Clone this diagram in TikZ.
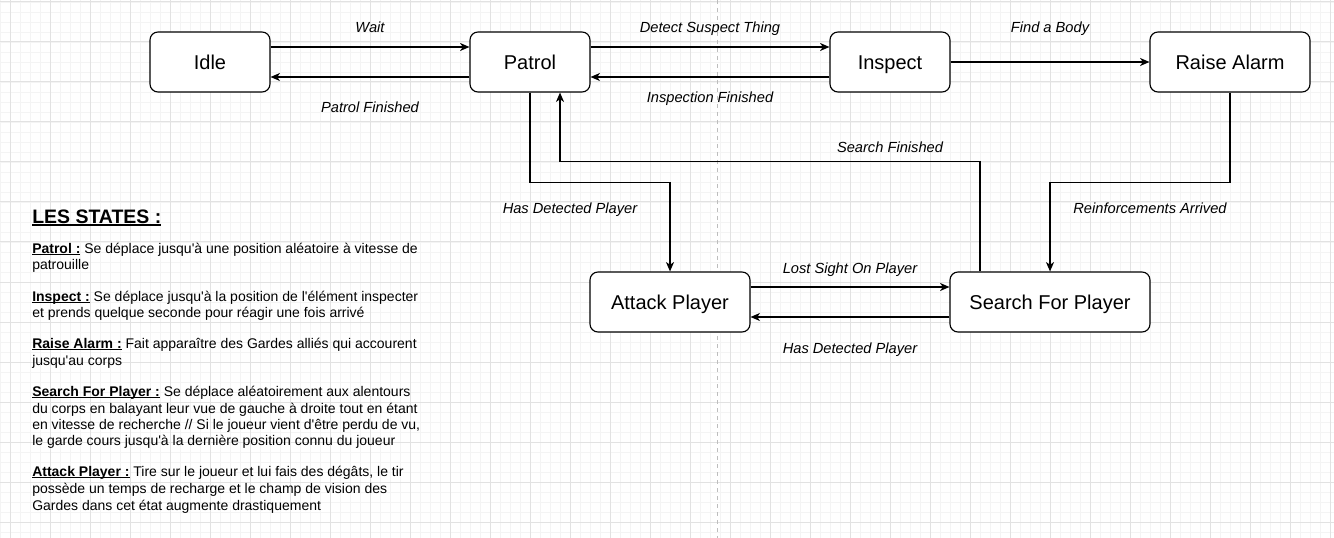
\documentclass[tikz,border=0pt]{standalone}
\usepackage{fontspec}
\setmainfont{Liberation Sans}
\usetikzlibrary{arrows.meta,calc}
\definecolor{gridmaj}{HTML}{E2E2E2}
\definecolor{gridmin}{HTML}{F4F4F4}
\definecolor{pageline}{HTML}{BDBDBD}
\newcommand{\myul}[2][0.6pt]{\setbox0\hbox{#2}\rlap{\rule[-1.6pt]{\wd0}{#1}}\box0}
\newcommand{\ap}{\textquotesingle}
\tikzset{
  statebox/.style={draw, line width=0.85pt, rounded corners=6pt, fill=white,
    minimum height=45pt, inner sep=0pt, text height=13.8pt, text depth=3.2pt,
    font=\fontsize{15}{18}\selectfont},
  arr/.style={line width=0.85pt, -{Stealth[length=7pt,width=6pt,inset=2pt]}},
  lab/.style={font=\fontsize{11}{13}\selectfont\itshape, inner sep=0pt,
    text height=11pt, text depth=2.4pt},
  body/.style={anchor=base west, inner sep=0pt, font=\fontsize{10.5}{12.5}\selectfont},
}
\begin{document}
\begin{tikzpicture}[x=0.75pt,y=-0.75pt]
\useasboundingbox (0,0) rectangle (1334,538);
\fill[white] (0,0) rectangle (1334,538);
% grid
\foreach \gx in {0,10,...,1330} \draw[gridmin, line width=0.6pt] (\gx,0) -- (\gx,538);
\foreach \gy in {2,12,...,532} \draw[gridmin, line width=0.6pt] (0,\gy) -- (1334,\gy);
\foreach \gx in {10,50,...,1330} \draw[gridmaj, line width=0.75pt] (\gx,0) -- (\gx,538);
\foreach \gy in {2,42,...,532} \draw[gridmaj, line width=0.75pt] (0,\gy) -- (1334,\gy);
\draw[pageline, line width=0.75pt, dash pattern=on 3pt off 3pt] (717,0) -- (717,538);

% states
\node[statebox, minimum width=90pt]  (idle)    at (210,62)  {Idle};
\node[statebox, minimum width=90pt]  (patrol)  at (530,62)  {Patrol};
\node[statebox, minimum width=90pt]  (inspect) at (890,62)  {Inspect};
\node[statebox, minimum width=120pt] (raise)   at (1230,62) {Raise Alarm};
\node[statebox, minimum width=120pt] (attack)  at (670,302) {Attack Player};
\node[statebox, minimum width=150pt] (search)  at (1050,302) {Search For Player};

% connectors
\draw[arr] ($(idle.east)+(0,-15)$) -- node[lab, yshift=15pt] {Wait} ($(patrol.west)+(0,-15)$);
\draw[arr] ($(patrol.west)+(0,15)$) -- node[lab, yshift=-22.5pt] {Patrol Finished} ($(idle.east)+(0,15)$);
\draw[arr] ($(patrol.east)+(0,-15)$) -- node[lab, yshift=15pt] {Detect Suspect Thing} ($(inspect.west)+(0,-15)$);
\draw[arr] ($(inspect.west)+(0,15)$) -- node[lab, yshift=-15pt] {Inspection Finished} ($(patrol.east)+(0,15)$);
\draw[arr] (inspect.east) -- node[lab, yshift=26.25pt] {Find a Body} (raise.west);
\draw[arr] (patrol.south) -- ++(0,90) -| (attack.north);
\draw[arr] ($(search.north)+(-70,0)$) -- ++(0,-110) -| ($(patrol.south)+(30,0)$);
\draw[arr] (raise.south) -- ++(0,90) -| (search.north);
\draw[arr] ($(attack.east)+(0,-15)$) -- node[lab, yshift=14.25pt] {Lost Sight On Player} ($(search.west)+(0,-15)$);
\draw[arr] ($(search.west)+(0,15)$) -- node[lab, yshift=-23.25pt] {Has Detected Player} ($(attack.east)+(0,15)$);

\node[lab] (l1) at (570,208) {Has Detected Player};
\node[lab] (l2) at (890,147) {Search Finished};
\node[lab] (l3) at (1150,208) {Reinforcements Arrived};

% legend
\node[anchor=base west, inner sep=0pt, font=\fontsize{14.6}{17}\selectfont\bfseries] (title) at (32,223.5) {\myul[0.9pt]{LES STATES :}};
\node[body] (t1) at (32,253) {\textbf{\myul{Patrol :}} Se déplace jusqu\ap à une position aléatoire à vitesse de};
\node[body] (t2) at (32,270) {patrouille};
\node[body] (t3) at (32,301) {\textbf{\myul{Inspect :}} Se déplace jusqu\ap à la position de l\ap élément inspecter};
\node[body] (t4) at (32,317) {et prends quelque seconde pour réagir une fois arrivé};
\node[body] (t5) at (32,348) {\textbf{\myul{Raise Alarm :}} Fait apparaître des Gardes alliés qui accourent};
\node[body] (t6) at (32,365) {jusqu\ap au corps};
\node[body] (t7) at (32,396) {\textbf{\myul{Search For Player :}} Se déplace aléatoirement aux alentours};
\node[body] (t8) at (32,413) {du corps en balayant leur vue de gauche à droite tout en étant};
\node[body] (t9) at (32,429) {en vitesse de recherche // Si le joueur vient d\ap être perdu de vu,};
\node[body] (t10) at (32,445) {le garde cours jusqu\ap à la dernière position connu du joueur};
\node[body] (t11) at (32,476) {\textbf{\myul{Attack Player :}} Tire sur le joueur et lui fais des dégâts, le tir};
\node[body] (t12) at (32,493) {possède un temps de recharge et le champ de vision des};
\node[body] (t13) at (32,510) {Gardes dans cet état augmente drastiquement};
\end{tikzpicture}
\end{document}
